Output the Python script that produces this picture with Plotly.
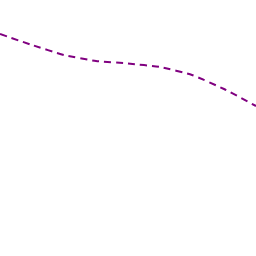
import plotly.graph_objects as go

x_vals = [0, 32, 64, 96, 128, 160, 192, 224, 256]
y_vals = [222, 211, 201, 195, 192.5, 189, 181, 167, 150]

fig = go.Figure(go.Scatter(
    x=x_vals, y=y_vals, mode="lines",
    line=dict(color="#800080", width=2, dash="7px,5px", shape="spline", smoothing=0.5),
))
fig.update_layout(
    width=256, height=256, margin=dict(l=0, r=0, t=0, b=0),
    paper_bgcolor="white", plot_bgcolor="white", showlegend=False,
    xaxis=dict(range=[0, 256], visible=False),
    yaxis=dict(range=[0, 256], visible=False),
)
fig.write_html("out.html")
